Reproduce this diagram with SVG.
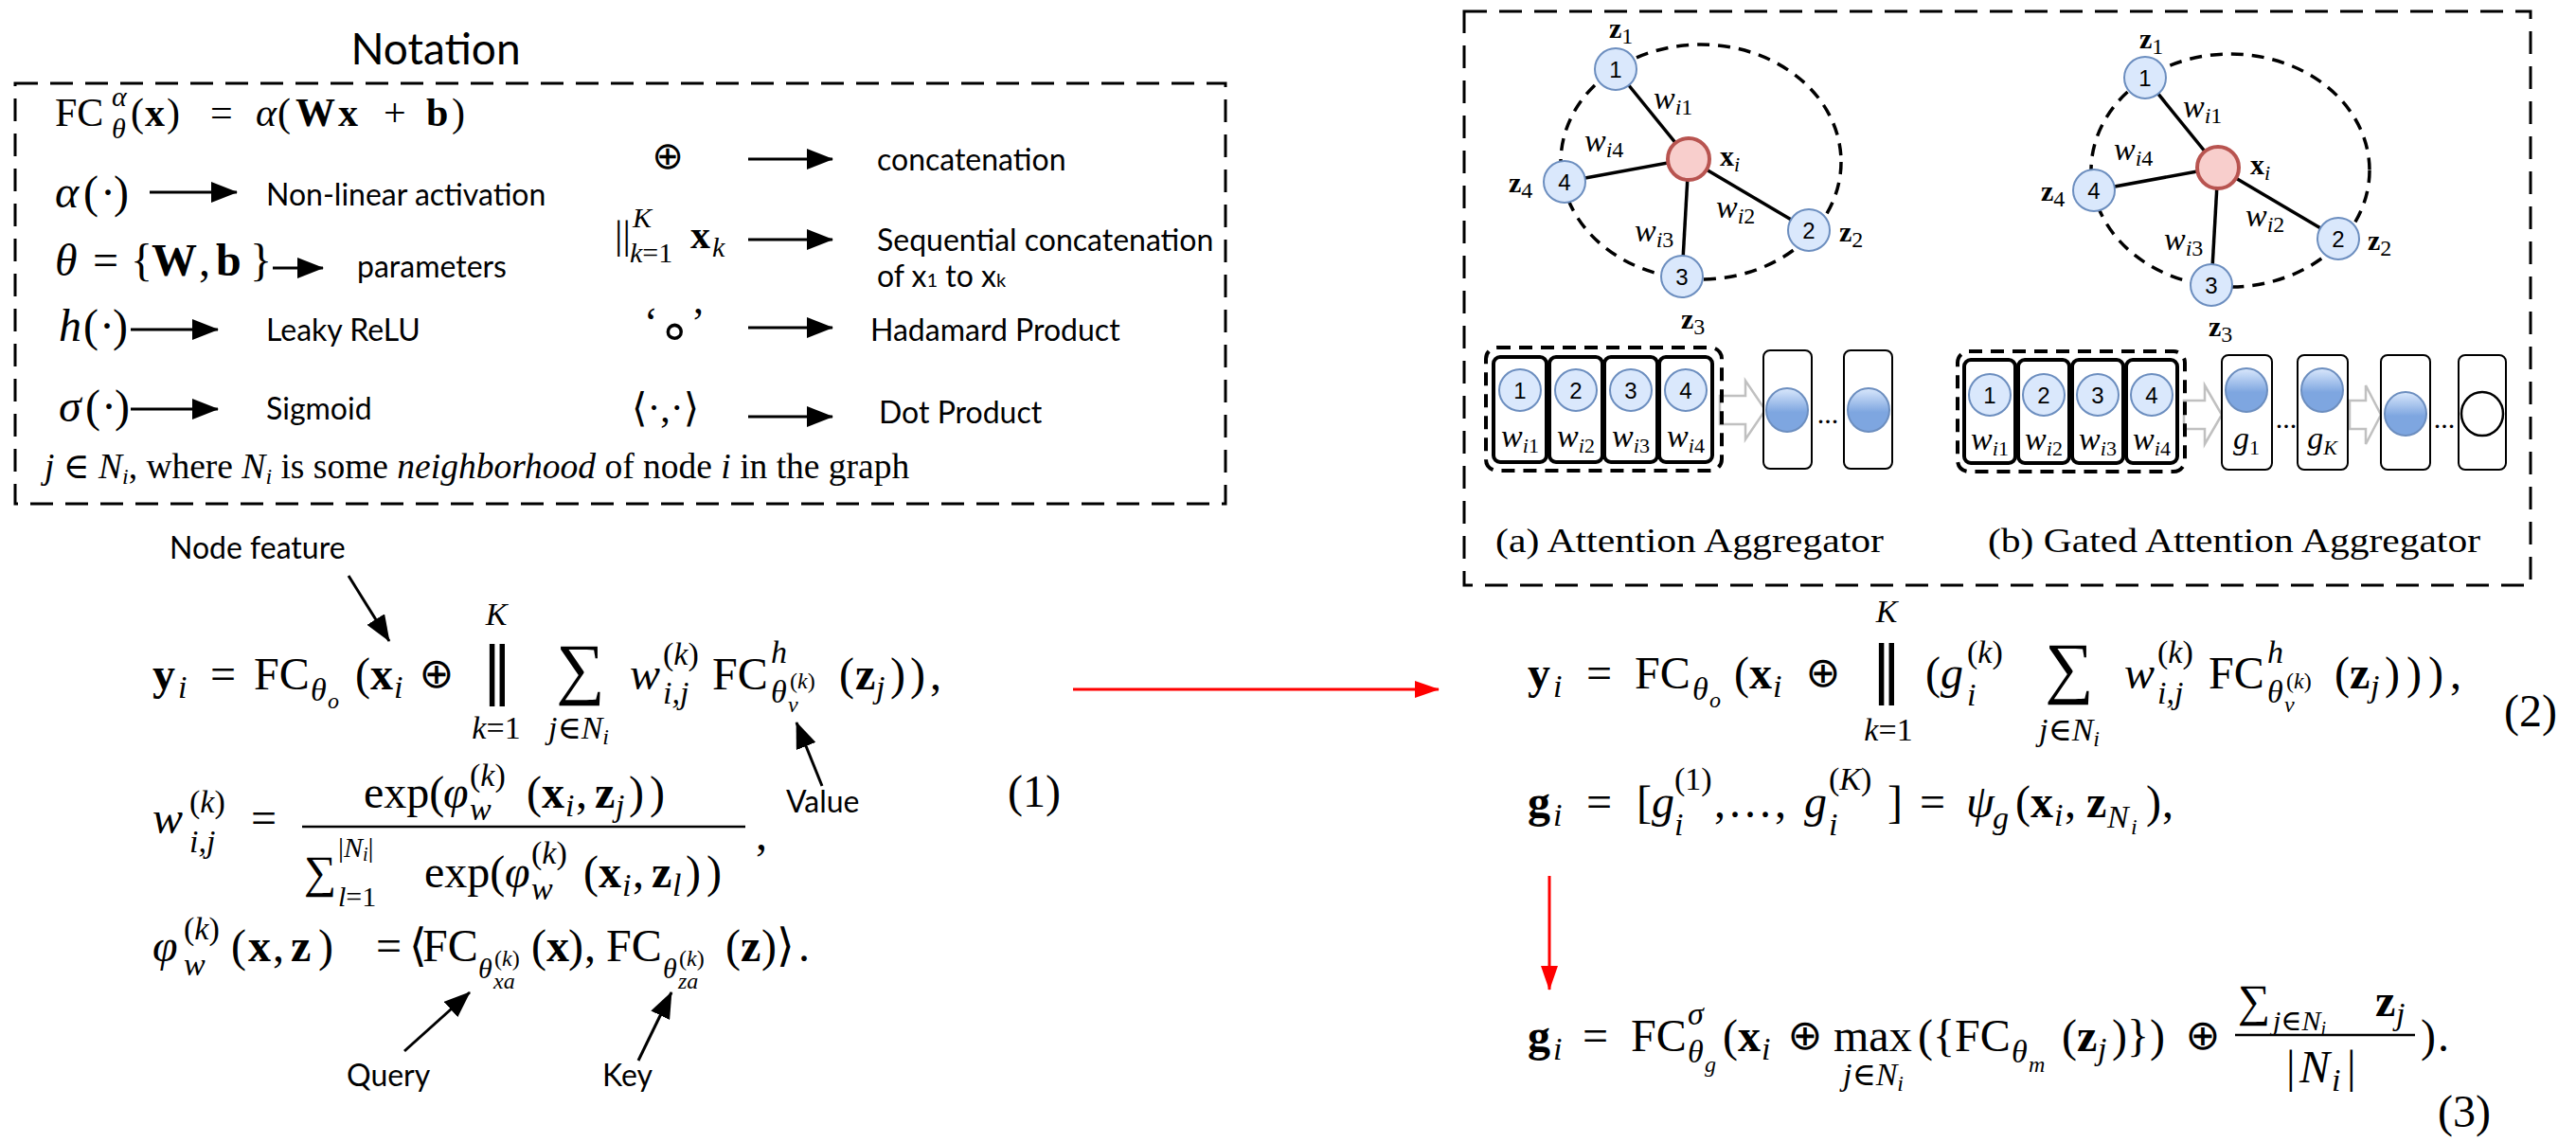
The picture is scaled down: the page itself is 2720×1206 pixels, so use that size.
<svg xmlns="http://www.w3.org/2000/svg" width="2720" height="1206" viewBox="0 0 2720 1206">
<style>
.m{font-family:"Liberation Serif","DejaVu Serif",serif;fill:#000}
.i{font-style:italic}
.b{font-weight:bold}
.f48{font-size:48px}
.f42{font-size:42px}
.f34{font-size:34px}
.f30{font-size:30px}
.f24{font-size:24px}
.sym{font-family:"DejaVu Sans",sans-serif;fill:#000}
.lbl{font-family:Lato,"Liberation Sans",sans-serif;font-size:32px;fill:#000}
.ar{stroke:#000;stroke-width:3;fill:none;marker-end:url(#ah)}
.red{stroke:#f00;stroke-width:3;fill:none;marker-end:url(#rh)}
.box{fill:none;stroke:#000;stroke-width:3;stroke-dasharray:24 13}
.node{fill:#dae8fc;stroke:#6c8ebf;stroke-width:2}
.xi{fill:#f8cecc;stroke:#b85450;stroke-width:4}
.edge{stroke:#000;stroke-width:3.5}
.nb{font-family:"Liberation Sans",sans-serif;font-size:24px;text-anchor:middle;fill:#000}
.cell{fill:#fff;stroke:#000;stroke-width:4}
.vec{fill:#fff;stroke:#000;stroke-width:2}
.hol{fill:#fff;stroke:#c0c0c0;stroke-width:2.5}
.fb{fill:url(#gb);stroke:#6c8ebf;stroke-width:2}
.nbh{fill:none;stroke:#000;stroke-width:3.5;stroke-dasharray:13 9}
.grp{fill:none;stroke:#000;stroke-width:4;stroke-dasharray:14 9}
.bar{stroke:#000;stroke-width:2.5}
</style>
<defs>
<marker id="ah" markerUnits="userSpaceOnUse" markerWidth="28" markerHeight="22" refX="27" refY="11" orient="auto"><path d="M0,0 L28,11 L0,22 Z" fill="#000"/></marker>
<marker id="rh" markerUnits="userSpaceOnUse" markerWidth="26" markerHeight="18" refX="25" refY="9" orient="auto"><path d="M0,0 L26,9 L0,18 Z" fill="#f00"/></marker>
<linearGradient id="gb" x1="0" y1="0" x2="0" y2="1"><stop offset="0" stop-color="#dae8fc"/><stop offset="0.55" stop-color="#7ea6e0"/><stop offset="1" stop-color="#7ea6e0"/></linearGradient>
</defs>
<rect width="2720" height="1206" fill="#fff"/>

<g id="connectors">
<line class="ar" x1="158" y1="203" x2="250" y2="203"/>
<line class="ar" x1="288" y1="283" x2="341" y2="283"/>
<line class="ar" x1="138" y1="348" x2="230" y2="348"/>
<line class="ar" x1="138" y1="432" x2="230" y2="432"/>
<line class="ar" x1="790" y1="168" x2="879" y2="168"/>
<line class="ar" x1="790" y1="253" x2="879" y2="253"/>
<line class="ar" x1="790" y1="346" x2="879" y2="346"/>
<line class="ar" x1="790" y1="440" x2="879" y2="440"/>
<line class="ar" x1="368" y1="608" x2="411" y2="677"/>
<line class="ar" x1="868" y1="830" x2="841" y2="763"/>
<line class="ar" x1="427" y1="1110" x2="496" y2="1048"/>
<line class="ar" x1="674" y1="1120" x2="709" y2="1048"/>
<line class="red" x1="1133" y1="728" x2="1519" y2="728"/>
<line class="red" x1="1636" y1="925" x2="1636" y2="1045"/>
<line class="edge" x1="1783" y1="168" x2="1706" y2="73"/>
<line class="edge" x1="1783" y1="168" x2="1910" y2="243"/>
<line class="edge" x1="1783" y1="168" x2="1776" y2="292"/>
<line class="edge" x1="1783" y1="168" x2="1652" y2="192"/>
<line class="edge" x1="2342" y1="177" x2="2265" y2="82"/>
<line class="edge" x1="2342" y1="177" x2="2469" y2="252"/>
<line class="edge" x1="2342" y1="177" x2="2335" y2="301"/>
<line class="edge" x1="2342" y1="177" x2="2211" y2="201"/>
<path class="hol" d="M1816,418 H1843 V402 L1864,433 L1843,464 V448 H1816 Z"/>
<path class="hol" d="M2306,423 H2328 V407 L2346,438 L2328,469 V453 H2306 Z"/>
<path class="hol" d="M2481,423 H2498 V407 L2514,438 L2498,469 V453 H2481 Z"/>
</g>

<g id="notation">
<text class="lbl" x="460" y="68" text-anchor="middle" style="font-size:46px">Notation</text>
<rect class="box" x="16" y="88" width="1278" height="444"/>
<text class="m f42" x="58" y="133">FC</text>
<text class="m i f30" x="118" y="112">α</text>
<text class="m i f30" x="118" y="146">θ</text>
<text class="m f42" y="133"><tspan x="138">(</tspan><tspan x="153" class="b">x</tspan><tspan x="176">)</tspan><tspan x="222">=</tspan><tspan x="270" class="i">α</tspan><tspan x="293">(</tspan><tspan x="312" class="b">W</tspan><tspan x="357" class="b">x</tspan><tspan x="405">+</tspan><tspan x="450" class="b">b</tspan><tspan x="477">)</tspan></text>
<text class="m f48" y="219"><tspan x="58" class="i">α</tspan><tspan x="88">(</tspan><tspan x="106">·</tspan><tspan x="120">)</tspan></text>
<text class="lbl" x="281" y="217">Non-linear activation</text>
<text class="m f48" y="291"><tspan x="58" class="i">θ</tspan><tspan x="98">=</tspan><tspan x="138">{</tspan><tspan x="160" class="b">W</tspan><tspan x="210">,</tspan><tspan x="228" class="b">b</tspan><tspan x="264">}</tspan></text>
<text class="lbl" x="377" y="293">parameters</text>
<text class="m f48" y="360"><tspan x="62" class="i">h</tspan><tspan x="88">(</tspan><tspan x="105">·</tspan><tspan x="119">)</tspan></text>
<text class="lbl" x="281" y="360">Leaky ReLU</text>
<text class="m f48" y="445"><tspan x="62" class="i">σ</tspan><tspan x="90">(</tspan><tspan x="107">·</tspan><tspan x="121">)</tspan></text>
<text class="lbl" x="281" y="443">Sigmoid</text>
<text class="sym" x="705" y="178" text-anchor="middle" font-size="40">⊕</text>
<text class="lbl" x="926" y="180">concatenation</text>
<text class="m f42" x="649" y="262">||</text>
<text class="m i f30" x="668" y="240">K</text>
<text class="m f30" x="665" y="277"><tspan class="i">k</tspan>=1</text>
<text class="m b f42" x="729" y="262">x</text>
<text class="m i f30" x="752" y="271">k</text>
<text class="lbl" x="926" y="265">Sequential concatenation</text>
<text class="lbl" x="926" y="303">of x<tspan font-size="20">1</tspan> to x<tspan font-size="20">k</tspan></text>
<text class="m" x="680" y="355" font-size="44">‘<tspan class="sym" font-size="56" dy="13">∘</tspan><tspan dy="-13">’</tspan></text>
<text class="lbl" x="919" y="360">Hadamard Product</text>
<text class="m" x="667" y="445" font-size="42">⟨·,·⟩</text>
<text class="lbl" x="928" y="447">Dot Product</text>
<text class="m" x="47" y="505" font-size="37.5"><tspan class="i">j</tspan> ∈ <tspan class="i">N</tspan><tspan class="i" font-size="24" dy="6">i</tspan><tspan dy="-6">, where </tspan><tspan class="i">N</tspan><tspan class="i" font-size="24" dy="6">i</tspan><tspan dy="-6"> is some </tspan><tspan class="i">neighborhood</tspan> of node <tspan class="i">i</tspan> in the graph</text>
</g>

<g id="eq1">
<text class="lbl" x="179" y="590">Node feature</text>
<text class="lbl" x="830" y="858">Value</text>
<text class="lbl" x="366" y="1147">Query</text>
<text class="lbl" x="636" y="1147">Key</text>
<text class="m f48" y="728"><tspan x="161" class="b">y</tspan><tspan x="222">=</tspan><tspan x="268">FC</tspan><tspan x="375">(</tspan><tspan x="391" class="b">x</tspan></text>
<text class="m i f34" y="737"><tspan x="188">i</tspan><tspan x="416">i</tspan></text>
<text class="m i f34" x="328" y="740">θ</text><text class="m i f24" x="346" y="748">o</text>
<text class="sym" x="461" y="726" text-anchor="middle" font-size="44">⊕</text>
<text class="sym" x="525" y="730" text-anchor="middle" font-size="66">‖</text>
<text class="m i f34" x="524" y="660" text-anchor="middle">K</text>
<text class="m f34" x="524" y="780" text-anchor="middle"><tspan class="i">k</tspan>=1</text>
<text class="m" x="613" y="730" text-anchor="middle" font-size="72">∑</text>
<text class="m f34" x="611" y="780" text-anchor="middle"><tspan class="i">j</tspan>∈<tspan class="i">N</tspan><tspan class="i f24" dy="6">i</tspan></text>
<text class="m i f48" x="665" y="728">w</text>
<text class="m f34" x="700" y="702">(<tspan class="i">k</tspan>)</text>
<text class="m i f34" x="700" y="743">i,j</text>
<text class="m f48" x="752" y="728">FC</text>
<text class="m i f34" x="814" y="700">h</text>
<text class="m i f34" x="814" y="742">θ</text>
<text class="m i f24" x="832" y="752">v</text>
<text class="m f24" x="834" y="727">(<tspan class="i">k</tspan>)</text>
<text class="m f48" y="728"><tspan x="886">(</tspan><tspan x="903" class="b">z</tspan></text>
<text class="m i f34" x="925" y="737">j</text>
<text class="m f48" x="940" y="728" letter-spacing="5">)),</text>
<text class="m f48" x="1064" y="852">(1)</text>

<text class="m i f48" x="161" y="880">w</text>
<text class="m f34" x="200" y="858">(<tspan class="i">k</tspan>)</text>
<text class="m i f34" x="200" y="900">i,j</text>
<text class="m f48" x="265" y="880">=</text>
<line class="bar" x1="319" y1="873" x2="787" y2="873"/>
<text class="m f48" x="384" y="853">exp(</text>
<text class="m i f48" x="468" y="853">φ</text>
<text class="m f34" x="496" y="830">(<tspan class="i">k</tspan>)</text>
<text class="m i f34" x="496" y="866">w</text>
<text class="m f48" y="853"><tspan x="556">(</tspan><tspan x="572" class="b">x</tspan><tspan x="608">,</tspan><tspan x="628" class="b">z</tspan></text>
<text class="m i f34" y="862"><tspan x="597">i</tspan><tspan x="650">j</tspan></text>
<text class="m f48" x="664" y="853" letter-spacing="6">))</text>
<text class="m f48" x="321" y="937">∑</text>
<text class="m f30" x="357" y="905">|<tspan class="i">N</tspan><tspan class="i" font-size="20" dy="4">i</tspan><tspan dy="-4">|</tspan></text>
<text class="m f30" x="357" y="957"><tspan class="i">l</tspan>=1</text>
<text class="m f48" x="448" y="937">exp(</text>
<text class="m i f48" x="533" y="937">φ</text>
<text class="m f34" x="561" y="912">(<tspan class="i">k</tspan>)</text>
<text class="m i f34" x="561" y="950">w</text>
<text class="m f48" y="937"><tspan x="616">(</tspan><tspan x="632" class="b">x</tspan><tspan x="668">,</tspan><tspan x="688" class="b">z</tspan></text>
<text class="m i f34" y="946"><tspan x="657">i</tspan><tspan x="710">l</tspan></text>
<text class="m f48" x="724" y="937" letter-spacing="6">))</text>
<text class="m f48" x="798" y="897">,</text>

<text class="m i f48" x="161" y="1015">φ</text>
<text class="m f34" x="194" y="992">(<tspan class="i">k</tspan>)</text>
<text class="m i f34" x="194" y="1030">w</text>
<text class="m f48" y="1015"><tspan x="244">(</tspan><tspan x="262" class="b">x</tspan><tspan x="288">,</tspan><tspan x="307" class="b">z</tspan><tspan x="336">)</tspan><tspan x="397">=</tspan><tspan x="432">⟨</tspan><tspan x="446">FC</tspan><tspan x="561">(</tspan><tspan x="577" class="b">x</tspan><tspan x="600">)</tspan><tspan x="617">,</tspan><tspan x="640">FC</tspan><tspan x="766">(</tspan><tspan x="782" class="b">z</tspan><tspan x="804">)</tspan><tspan x="820">⟩</tspan><tspan x="843">.</tspan></text>
<text class="m i f30" x="505" y="1033">θ</text>
<text class="m i f24" x="521" y="1044">xa</text>
<text class="m f24" x="522" y="1020">(<tspan class="i">k</tspan>)</text>
<text class="m i f30" x="700" y="1033">θ</text>
<text class="m i f24" x="716" y="1044">za</text>
<text class="m f24" x="717" y="1020">(<tspan class="i">k</tspan>)</text>
</g>

<g id="panel">
<rect class="box" x="1546" y="12" width="1126" height="606"/>
<text class="m" font-size="36" x="1579" y="583" textLength="410" lengthAdjust="spacingAndGlyphs">(a) Attention Aggregator</text>
<text class="m" font-size="36" x="2099" y="583" textLength="520" lengthAdjust="spacingAndGlyphs">(b) Gated Attention Aggregator</text>
</g>

<g id="graph-a">
<ellipse class="nbh" cx="1796" cy="171" rx="148" ry="124"/>
<g id="a-n1"><circle class="node" cx="1706" cy="73" r="22"/><text class="nb" x="1706" y="82">1</text></g>
<g id="a-n2"><circle class="node" cx="1910" cy="243" r="22"/><text class="nb" x="1910" y="252">2</text></g>
<g id="a-n3"><circle class="node" cx="1776" cy="292" r="22"/><text class="nb" x="1776" y="301">3</text></g>
<g id="a-n4"><circle class="node" cx="1652" cy="192" r="22"/><text class="nb" x="1652" y="201">4</text></g>
<g id="a-xi"><circle class="xi" cx="1783" cy="168" r="22"/></g>
<text class="m b f30" x="1699" y="40">z<tspan font-size="24" font-weight="normal" dy="6">1</tspan></text>
<text class="m b f30" x="1593" y="203">z<tspan font-size="24" font-weight="normal" dy="6">4</tspan></text>
<text class="m b f30" x="1942" y="255">z<tspan font-size="24" font-weight="normal" dy="6">2</tspan></text>
<text class="m b f30" x="1775" y="347">z<tspan font-size="24" font-weight="normal" dy="6">3</tspan></text>
<text class="m b f30" x="1816" y="175">x<tspan class="i" font-size="22" font-weight="normal" dy="6">i</tspan></text>
<text class="m i f34" x="1746" y="115">w<tspan font-size="24" dy="6">i</tspan><tspan font-size="24" font-style="normal">1</tspan></text>
<text class="m i f34" x="1673" y="160">w<tspan font-size="24" dy="6">i</tspan><tspan font-size="24" font-style="normal">4</tspan></text>
<text class="m i f34" x="1812" y="230">w<tspan font-size="24" dy="6">i</tspan><tspan font-size="24" font-style="normal">2</tspan></text>
<text class="m i f34" x="1726" y="255">w<tspan font-size="24" dy="6">i</tspan><tspan font-size="24" font-style="normal">3</tspan></text>
</g>

<g id="agg-a">
<rect class="grp" x="1569" y="367" width="249" height="130" rx="12"/>
<rect class="cell" x="1577" y="377" width="56" height="111" rx="7"/>
<rect class="cell" x="1636" y="377" width="56" height="111" rx="7"/>
<rect class="cell" x="1694" y="377" width="56" height="111" rx="7"/>
<rect class="cell" x="1752" y="377" width="56" height="111" rx="7"/>
<ellipse class="node" cx="1605" cy="412" rx="22" ry="22"/><text class="nb" x="1605" y="421">1</text>
<ellipse class="node" cx="1664" cy="412" rx="22" ry="22"/><text class="nb" x="1664" y="421">2</text>
<ellipse class="node" cx="1722" cy="412" rx="22" ry="22"/><text class="nb" x="1722" y="421">3</text>
<ellipse class="node" cx="1780" cy="412" rx="22" ry="22"/><text class="nb" x="1780" y="421">4</text>
<text class="m i f34" x="1605" y="472" text-anchor="middle">w<tspan font-size="22" dy="6">i</tspan><tspan font-size="22" font-style="normal">1</tspan></text>
<text class="m i f34" x="1664" y="472" text-anchor="middle">w<tspan font-size="22" dy="6">i</tspan><tspan font-size="22" font-style="normal">2</tspan></text>
<text class="m i f34" x="1722" y="472" text-anchor="middle">w<tspan font-size="22" dy="6">i</tspan><tspan font-size="22" font-style="normal">3</tspan></text>
<text class="m i f34" x="1780" y="472" text-anchor="middle">w<tspan font-size="22" dy="6">i</tspan><tspan font-size="22" font-style="normal">4</tspan></text>
<rect class="vec" x="1862" y="370" width="51" height="125" rx="7"/>
<ellipse class="fb" cx="1887" cy="433" rx="22" ry="23"/>
<text class="m f30" x="1930" y="447" text-anchor="middle">...</text>
<rect class="vec" x="1947" y="370" width="51" height="125" rx="7"/>
<ellipse class="fb" cx="1973" cy="433" rx="22" ry="23"/>
</g>

<g id="graph-b">
<ellipse class="nbh" cx="2355" cy="180" rx="147" ry="123"/>
<g id="b-n1"><circle class="node" cx="2265" cy="82" r="22"/><text class="nb" x="2265" y="91">1</text></g>
<g id="b-n2"><circle class="node" cx="2469" cy="252" r="22"/><text class="nb" x="2469" y="261">2</text></g>
<g id="b-n3"><circle class="node" cx="2335" cy="301" r="22"/><text class="nb" x="2335" y="310">3</text></g>
<g id="b-n4"><circle class="node" cx="2211" cy="201" r="22"/><text class="nb" x="2211" y="210">4</text></g>
<g id="b-xi"><circle class="xi" cx="2342" cy="177" r="22"/></g>
<text class="m b f30" x="2259" y="51">z<tspan font-size="24" font-weight="normal" dy="6">1</tspan></text>
<text class="m b f30" x="2155" y="212">z<tspan font-size="24" font-weight="normal" dy="6">4</tspan></text>
<text class="m b f30" x="2500" y="264">z<tspan font-size="24" font-weight="normal" dy="6">2</tspan></text>
<text class="m b f30" x="2332" y="355">z<tspan font-size="24" font-weight="normal" dy="6">3</tspan></text>
<text class="m b f30" x="2376" y="184">x<tspan class="i" font-size="22" font-weight="normal" dy="6">i</tspan></text>
<text class="m i f34" x="2305" y="124">w<tspan font-size="24" dy="6">i</tspan><tspan font-size="24" font-style="normal">1</tspan></text>
<text class="m i f34" x="2232" y="169">w<tspan font-size="24" dy="6">i</tspan><tspan font-size="24" font-style="normal">4</tspan></text>
<text class="m i f34" x="2371" y="239">w<tspan font-size="24" dy="6">i</tspan><tspan font-size="24" font-style="normal">2</tspan></text>
<text class="m i f34" x="2285" y="264">w<tspan font-size="24" dy="6">i</tspan><tspan font-size="24" font-style="normal">3</tspan></text>
</g>

<g id="agg-b">
<rect class="grp" x="2067" y="371" width="240" height="127" rx="12"/>
<rect class="cell" x="2074" y="380" width="54" height="109" rx="7"/>
<rect class="cell" x="2131" y="380" width="54" height="109" rx="7"/>
<rect class="cell" x="2188" y="380" width="54" height="109" rx="7"/>
<rect class="cell" x="2245" y="380" width="54" height="109" rx="7"/>
<ellipse class="node" cx="2101" cy="417" rx="22" ry="22"/><text class="nb" x="2101" y="426">1</text>
<ellipse class="node" cx="2158" cy="417" rx="22" ry="22"/><text class="nb" x="2158" y="426">2</text>
<ellipse class="node" cx="2215" cy="417" rx="22" ry="22"/><text class="nb" x="2215" y="426">3</text>
<ellipse class="node" cx="2272" cy="417" rx="22" ry="22"/><text class="nb" x="2272" y="426">4</text>
<text class="m i f34" x="2101" y="475" text-anchor="middle">w<tspan font-size="22" dy="6">i</tspan><tspan font-size="22" font-style="normal">1</tspan></text>
<text class="m i f34" x="2158" y="475" text-anchor="middle">w<tspan font-size="22" dy="6">i</tspan><tspan font-size="22" font-style="normal">2</tspan></text>
<text class="m i f34" x="2215" y="475" text-anchor="middle">w<tspan font-size="22" dy="6">i</tspan><tspan font-size="22" font-style="normal">3</tspan></text>
<text class="m i f34" x="2272" y="475" text-anchor="middle">w<tspan font-size="22" dy="6">i</tspan><tspan font-size="22" font-style="normal">4</tspan></text>
<rect class="vec" x="2346" y="375" width="53" height="121" rx="7"/>
<ellipse class="fb" cx="2372" cy="412" rx="22" ry="23"/>
<text class="m i f34" x="2372" y="474" text-anchor="middle">g<tspan font-size="22" font-style="normal" dy="6">1</tspan></text>
<text class="m f30" x="2414" y="452" text-anchor="middle">...</text>
<rect class="vec" x="2426" y="375" width="53" height="121" rx="7"/>
<ellipse class="fb" cx="2452" cy="412" rx="22" ry="23"/>
<text class="m i f34" x="2452" y="474" text-anchor="middle">g<tspan font-size="22" dy="6">K</tspan></text>
<rect class="vec" x="2514" y="375" width="52" height="121" rx="7"/>
<ellipse class="fb" cx="2540" cy="437" rx="22" ry="23"/>
<text class="m f30" x="2581" y="452" text-anchor="middle">...</text>
<rect class="vec" x="2596" y="375" width="50" height="121" rx="7"/>
<ellipse cx="2621" cy="437" rx="22" ry="23" fill="#fff" stroke="#000" stroke-width="2.5"/>
</g>

<g id="eq2">
<text class="m f48" y="727"><tspan x="1613" class="b">y</tspan><tspan x="1675">=</tspan><tspan x="1726">FC</tspan><tspan x="1831">(</tspan><tspan x="1847" class="b">x</tspan></text>
<text class="m i f34" y="736"><tspan x="1640">i</tspan><tspan x="1872">i</tspan></text>
<text class="m i f34" x="1787" y="739">θ</text><text class="m i f24" x="1805" y="747">o</text>
<text class="sym" x="1925" y="725" text-anchor="middle" font-size="44">⊕</text>
<text class="sym" x="1992" y="729" text-anchor="middle" font-size="66">‖</text>
<text class="m i f34" x="1992" y="657" text-anchor="middle">K</text>
<text class="m f34" x="1994" y="782" text-anchor="middle"><tspan class="i">k</tspan>=1</text>
<text class="m f48" x="2033" y="727">(</text>
<text class="m i f48" x="2049" y="727">g</text>
<text class="m f34" x="2077" y="700">(<tspan class="i">k</tspan>)</text>
<text class="m i f34" x="2077" y="745">i</text>
<text class="m" x="2185" y="729" text-anchor="middle" font-size="72">∑</text>
<text class="m f34" x="2185" y="782" text-anchor="middle"><tspan class="i">j</tspan>∈<tspan class="i">N</tspan><tspan class="i f24" dy="6">i</tspan></text>
<text class="m i f48" x="2243" y="727">w</text>
<text class="m f34" x="2278" y="700">(<tspan class="i">k</tspan>)</text>
<text class="m i f34" x="2278" y="743">i,j</text>
<text class="m f48" x="2332" y="727">FC</text>
<text class="m i f34" x="2394" y="700">h</text>
<text class="m i f34" x="2394" y="742">θ</text>
<text class="m i f24" x="2412" y="752">v</text>
<text class="m f24" x="2414" y="727">(<tspan class="i">k</tspan>)</text>
<text class="m f48" y="727"><tspan x="2465">(</tspan><tspan x="2481" class="b">z</tspan></text>
<text class="m i f34" x="2503" y="736">j</text>
<text class="m f48" x="2518" y="727" letter-spacing="7">))),</text>
<text class="m f48" x="2644" y="767">(2)</text>

<text class="m f48" y="863"><tspan x="1613" class="b">g</tspan><tspan x="1675">=</tspan><tspan x="1728">[</tspan><tspan x="1744" class="i">g</tspan><tspan x="1810">,</tspan><tspan x="1826" letter-spacing="4">...,</tspan><tspan x="1905" class="i">g</tspan><tspan x="1993">]</tspan><tspan x="2027">=</tspan><tspan x="2076" class="i">ψ</tspan><tspan x="2128">(</tspan><tspan x="2144" class="b">x</tspan><tspan x="2180">,</tspan><tspan x="2203" class="b">z</tspan><tspan x="2266">)</tspan><tspan x="2283">,</tspan></text>
<text class="m i f34" y="872"><tspan x="1640">i</tspan><tspan x="2169">i</tspan></text>
<text class="m f34" x="1768" y="834">(1)</text>
<text class="m i f34" x="1768" y="882">i</text>
<text class="m f34" x="1931" y="834">(<tspan class="i">K</tspan>)</text>
<text class="m i f34" x="1931" y="882">i</text>
<text class="m i f34" x="2104" y="875">g</text>
<text class="m i f34" x="2225" y="874">N</text>
<text class="m i f24" x="2250" y="881">i</text>
</g>

<g id="eq3">
<text class="m f48" y="1110"><tspan x="1613" class="b">g</tspan><tspan x="1671">=</tspan><tspan x="1722">FC</tspan><tspan x="1819">(</tspan><tspan x="1835" class="b">x</tspan><tspan x="1936">max</tspan><tspan x="2025">(</tspan><tspan x="2041">{</tspan><tspan x="2064">FC</tspan><tspan x="2177">(</tspan><tspan x="2193" class="b">z</tspan><tspan x="2230">)</tspan><tspan x="2246">}</tspan><tspan x="2270">)</tspan><tspan x="2556">)</tspan><tspan x="2574">.</tspan></text>
<text class="m i f34" y="1119"><tspan x="1640">i</tspan><tspan x="1860">i</tspan><tspan x="2215">j</tspan></text>
<text class="m i f34" x="1782" y="1082">σ</text>
<text class="m i f34" x="1782" y="1122">θ</text>
<text class="m i f24" x="1800" y="1132">g</text>
<text class="sym" x="1906" y="1108" text-anchor="middle" font-size="44">⊕</text>
<text class="m f34" x="1978" y="1146" text-anchor="middle"><tspan class="i">j</tspan>∈<tspan class="i">N</tspan><tspan class="i f24" dy="6">i</tspan></text>
<text class="m i f34" x="2124" y="1122">θ</text>
<text class="m i f24" x="2142" y="1132">m</text>
<text class="sym" x="2326" y="1108" text-anchor="middle" font-size="44">⊕</text>
<line class="bar" x1="2360" y1="1093" x2="2550" y2="1093"/>
<text class="m f48" x="2363" y="1073">∑</text>
<text class="m f30" x="2400" y="1088"><tspan class="i">j</tspan>∈<tspan class="i">N</tspan><tspan class="i" font-size="20" dy="5">i</tspan></text>
<text class="m b f48" x="2508" y="1073">z</text>
<text class="m i f34" x="2530" y="1082">j</text>
<text class="m f48" y="1143"><tspan x="2414">|</tspan><tspan x="2428" class="i">N</tspan><tspan x="2478">|</tspan></text>
<text class="m i f34" x="2462" y="1152">i</text>
<text class="m f48" x="2574" y="1190">(3)</text>
</g>
</svg>
